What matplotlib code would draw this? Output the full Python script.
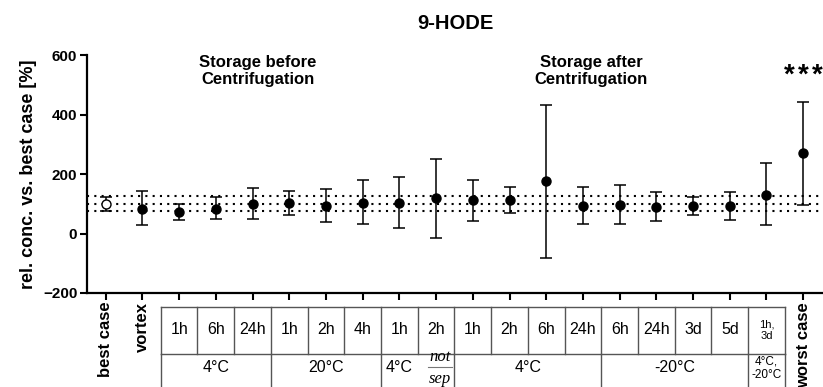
import numpy as np
import matplotlib
matplotlib.use('Agg')
import matplotlib.pyplot as plt
from matplotlib.transforms import blended_transform_factory

plt.rcParams['font.family'] = ['Liberation Sans', 'DejaVu Sans']

# mean and error bar ends, one entry per condition (best case ... worst case)
means = [100, 83, 72, 83, 100, 104, 94, 104, 101, 120,
         112, 113, 176, 94, 97, 90, 92, 92, 131, 269]
upper = [124, 142, 99, 122, 152, 144, 149, 179, 189, 252,
         181, 156, 433, 156, 162, 138, 122, 138, 237, 441]
lower = [74, 27, 46, 48, 48, 63, 40, 31, 17, -14,
         43, 70, -81, 33, 31, 43, 62, 46, 28, 96]

# reference band around the best case
ref_lines = [75, 100, 125]

# table rows under the axis
times = ['1h', '6h', '24h', '1h', '2h', '4h', '1h', '2h', '1h', '2h',
         '6h', '24h', '6h', '24h', '3d', '5d', '1h,\n3d']
group_names = ['4°C', '20°C', '4°C', '4°C', '-20°C', '4°C,\n-20°C']
group_first = [2, 5, 8, 10, 14, 18]
group_last = [4, 7, 9, 13, 17, 18]

title = '9-HODE'
ylabel = 'rel. conc. vs. best case [%]'
yticks = [-200, 0, 200, 400, 600]


def main():
    fig = plt.figure(figsize=(8.23, 3.87), dpi=100)
    ax = fig.add_axes([87 / 823, 1 - 293 / 387, 736 / 823, 238 / 387])

    x = np.arange(len(means))
    m = np.array(means)
    err = [m - np.array(lower), np.array(upper) - m]

    for v in ref_lines:
        ax.axhline(v, color='black', lw=1.5, ls=(0, (1, 2.5)), zorder=1)

    ax.errorbar(x[1:], m[1:], yerr=[err[0][1:], err[1][1:]], fmt='o',
                color='black', ms=6.5, elinewidth=1.1, capsize=4,
                capthick=1.1, zorder=3)
    ax.errorbar(x[:1], m[:1], yerr=[err[0][:1], err[1][:1]], fmt='o',
                mfc='white', mec='black', color='black', ms=6.5,
                elinewidth=1.1, capsize=4, capthick=1.1, zorder=3)

    ax.set_xlim(-0.51, 19.54)
    ax.set_ylim(-200, 600)
    ax.set_yticks(yticks)
    ax.set_xticks(x)
    ax.set_xticklabels([])
    for lab in ax.get_yticklabels():
        lab.set_fontweight('bold')
        lab.set_fontsize(11)
    ax.tick_params(axis='both', direction='out', length=5, width=1.5)
    ax.tick_params(axis='y', pad=2)
    for s in ['top', 'right']:
        ax.spines[s].set_visible(False)
    for s in ['left', 'bottom']:
        ax.spines[s].set_linewidth(1.6)

    ax.set_ylabel(ylabel, fontsize=13, fontweight='bold', labelpad=4)
    ax.set_title(title, fontsize=14.5, fontweight='bold', pad=19)

    ax.text(4.15, 546, 'Storage before\nCentrifugation', ha='center',
            va='center', fontsize=12, fontweight='bold', linespacing=1.1)
    ax.text(13.22, 546, 'Storage after\nCentrifugation', ha='center',
            va='center', fontsize=12, fontweight='bold', linespacing=1.1)
    # significance stars, spread out a little
    for dx in [-10, 0, 10]:
        ax.annotate('*', (19, 539), xytext=(dx, -2),
                    textcoords='offset points', ha='center', va='center',
                    fontsize=20, fontweight='bold')

    # table below the axis: x in data, y in axes fraction
    tr = blended_transform_factory(ax.transData, ax.transAxes)
    y_top, y_mid, y_bot = -0.059, -0.256, -0.45
    lc = '#555555'
    kw = dict(transform=tr, clip_on=False, color=lc, lw=1)
    ax.plot([1.5, 18.5], [y_top, y_top], **kw)
    ax.plot([1.5, 18.5], [y_mid, y_mid], **kw)
    for b in np.arange(1.5, 19.0, 1.0):
        ax.plot([b, b], [y_top, y_mid], **kw)
    bounds = [group_first[0] - 0.5] + [g + 0.5 for g in group_last]
    for b in bounds:
        ax.plot([b, b], [y_mid, y_bot], **kw)

    for i, t in enumerate(times):
        small = '\n' in t
        ax.text(i + 2, -0.155, t, transform=tr, ha='center', va='center',
                fontsize=8 if small else 11.5, linespacing=1.2)

    for name, a, b in zip(group_names, group_first, group_last):
        if a == 8:
            ax.text(8, -0.315, name, transform=tr, ha='center',
                    va='center', fontsize=11.5)
            ax.text(9.11, -0.268, 'not', transform=tr, ha='center',
                    va='center', fontsize=12, style='italic',
                    family='Liberation Serif')
            ax.text(9.11, -0.36, 'sep', transform=tr, ha='center',
                    va='center', fontsize=12, style='italic',
                    family='Liberation Serif')
            ax.plot([8.78, 9.44], [-0.311, -0.311], transform=tr,
                    clip_on=False, color='#777777', lw=0.8)
        else:
            small = '\n' in name
            ax.text((a + b) / 2, -0.315, name, transform=tr, ha='center',
                    va='center', fontsize=8.5 if small else 11.5,
                    linespacing=1.2)

    for i, lab in [(0, 'best case'), (1, 'vortex'), (19, 'worst case')]:
        ax.text(i, -0.037, lab, transform=tr, ha='center', va='top',
                rotation=90, fontsize=12, fontweight='bold')

    fig.savefig('out.png', dpi=100)


if __name__ == '__main__':
    main()
